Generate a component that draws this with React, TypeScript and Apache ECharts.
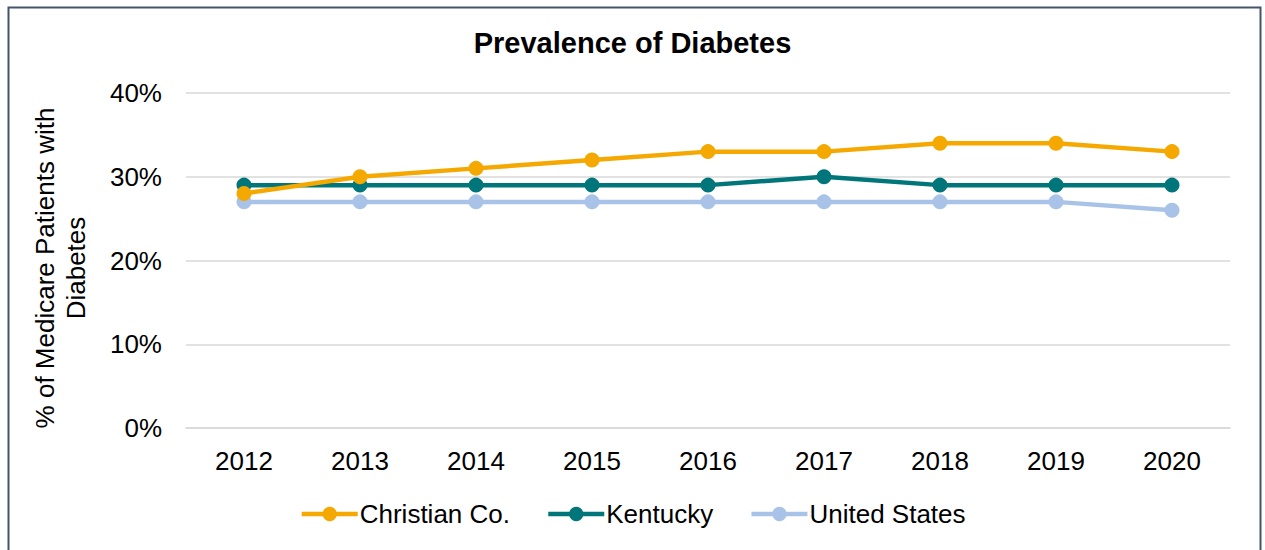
import React, { useEffect, useRef } from "react";
import * as echarts from "echarts";

const years = ["2012", "2013", "2014", "2015", "2016", "2017", "2018", "2019", "2020"];
const christianCo = [28, 30, 31, 32, 33, 33, 34, 34, 33];
const kentucky = [29, 29, 29, 29, 29, 30, 29, 29, 29];
const unitedStates = [27, 27, 27, 27, 27, 27, 27, 27, 26];

const FONT = "Arial";

export default function App() {
  const ref = useRef<HTMLDivElement>(null);
  useEffect(() => {
    if (!ref.current) return;
    const chart = echarts.init(ref.current, null, { renderer: "svg" });
    const mk = (name: string, data: number[], color: string) => ({
      name,
      type: "line",
      data,
      symbol: "circle",
      symbolSize: 15,
      lineStyle: { width: 4.5, color },
      itemStyle: { color },
      z: name === "United States" ? 2 : name === "Kentucky" ? 3 : 4,
    });
    chart.setOption({
      animation: false,
      backgroundColor: "#ffffff",
      title: {
        text: "Prevalence of Diabetes",
        left: "center",
        top: 28,
        padding: 0,
        textStyle: { fontFamily: FONT, fontSize: 29, fontWeight: "bold", color: "#000" },
      },
      grid: { left: 186, right: 35, top: 93, bottom: 122 },
      legend: {
        top: 501,
        left: "center",
        padding: 0,
        itemWidth: 56,
        itemHeight: 18,
        itemGap: 36,
        lineStyle: { width: 4.5 },
        textStyle: { fontFamily: FONT, fontSize: 26, color: "#000", padding: [0, 0, 0, -3] },
        data: ["Christian Co.", "Kentucky", "United States"],
      },
      xAxis: {
        type: "category",
        data: years,
        boundaryGap: true,
        axisLine: { show: true, lineStyle: { color: "#d9d9d9", width: 1.5 } },
        axisTick: { show: false },
        axisLabel: { fontFamily: FONT, fontSize: 26, color: "#000", margin: 20 },
      },
      yAxis: {
        type: "value",
        min: 0,
        max: 40,
        interval: 10,
        axisLine: { show: false },
        axisTick: { show: false },
        splitLine: { lineStyle: { color: "#d9d9d9", width: 1.5 } },
        axisLabel: { fontFamily: FONT, fontSize: 26, color: "#000", margin: 24, formatter: "{value}%" },
      },
      graphic: [
        {
          type: "rect",
          left: 6,
          top: 5,
          shape: { width: 1252, height: 560 },
          style: { fill: "none", stroke: "#44546A", lineWidth: 2 },
          z: 100,
        },
        {
          type: "text",
          x: 60,
          y: 268,
          rotation: Math.PI / 2,
          style: {
            text: "% of Medicare Patients with\nDiabetes",
            fontFamily: FONT,
            fontSize: 26,
            lineHeight: 31,
            fill: "#000",
            align: "center",
            verticalAlign: "middle",
          },
        },
      ],
      series: [
        mk("Christian Co.", christianCo, "#F5A800"),
        mk("Kentucky", kentucky, "#00767A"),
        mk("United States", unitedStates, "#A9C2E8"),
      ],
    });
    return () => chart.dispose();
  }, []);
  return (
    <div style={{ position: "fixed", left: 0, top: 0, width: 1265, height: 550, background: "#fff" }}>
      <div ref={ref} style={{ width: 1265, height: 550 }} />
    </div>
  );
}
